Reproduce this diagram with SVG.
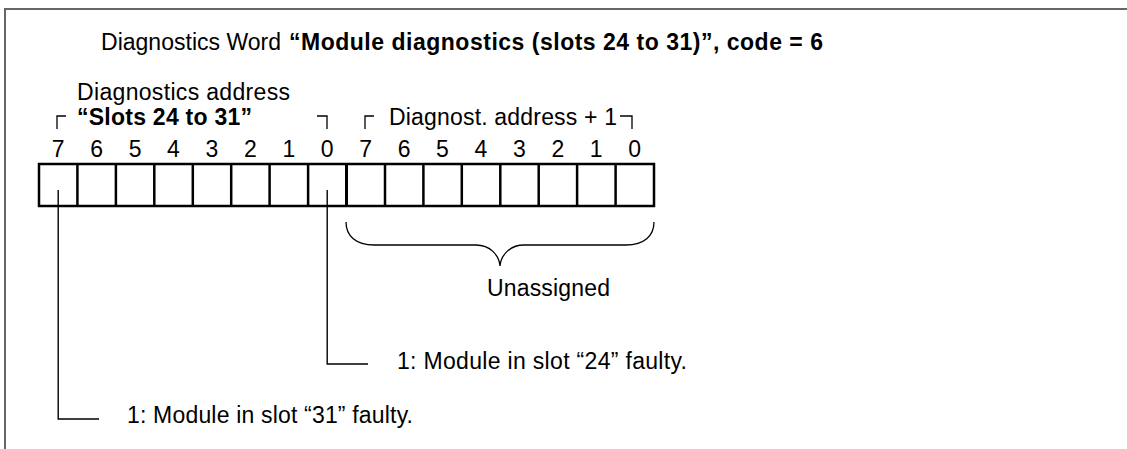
<svg xmlns="http://www.w3.org/2000/svg" width="1127" height="449" viewBox="0 0 1127 449">
<style>
text{font-family:"Liberation Sans",Arial,sans-serif;font-size:23px;fill:#000}
.b{font-weight:bold}
.cell{fill:#fff;stroke:#000;stroke-width:2.5}
.div{fill:none;stroke:#000;stroke-width:2.5}
.br{fill:none;stroke:#000;stroke-width:1.3}
.con{fill:none;stroke:#000;stroke-width:1.4}
.frame{fill:none;stroke:#666;stroke-width:2}
.d{text-anchor:middle}
</style>
<rect width="1127" height="449" fill="#fff"/>
<path class="frame" d="M5,449 V9 H1127"/>
<g id="title">
<text x="101" y="50" textLength="180" lengthAdjust="spacing">Diagnostics Word</text>
<text class="b" x="289" y="50" textLength="534" lengthAdjust="spacing">“Module diagnostics (slots 24 to 31)”, code = 6</text>
</g>
<g id="byte0-label">
<text x="77" y="100" textLength="213" lengthAdjust="spacing">Diagnostics address</text>
<text class="b" x="77" y="125" textLength="175" lengthAdjust="spacing">“Slots 24 to 31”</text>
<path class="br" d="M57,129 V116 H66 M317,116 H327 V129"/>
</g>
<g id="byte1-label">
<text x="389" y="125" textLength="228" lengthAdjust="spacing">Diagnost. address + 1</text>
<path class="br" d="M365,129 V116 H374 M620,116 H632 V129"/>
</g>
<g id="bit-numbers">
<text class="d" x="58.2" y="157">7</text>
<text class="d" x="96.7" y="157">6</text>
<text class="d" x="135.1" y="157">5</text>
<text class="d" x="173.5" y="157">4</text>
<text class="d" x="211.9" y="157">3</text>
<text class="d" x="250.4" y="157">2</text>
<text class="d" x="288.8" y="157">1</text>
<text class="d" x="327.2" y="157">0</text>
<text class="d" x="365.7" y="157">7</text>
<text class="d" x="404.1" y="157">6</text>
<text class="d" x="442.5" y="157">5</text>
<text class="d" x="480.9" y="157">4</text>
<text class="d" x="519.4" y="157">3</text>
<text class="d" x="557.8" y="157">2</text>
<text class="d" x="596.2" y="157">1</text>
<text class="d" x="634.6" y="157">0</text>
</g>
<g id="cells">
<rect class="cell" x="39" y="164" width="615" height="42"/>
<path class="div" d="M77.4,164V206M115.9,164V206M154.3,164V206M192.8,164V206M231.2,164V206M269.6,164V206M308.1,164V206M385,164V206M423.4,164V206M461.8,164V206M500.3,164V206M538.7,164V206M577.1,164V206M615.6,164V206"/>
<path fill="none" stroke="#000" stroke-width="3" d="M346.5,164V206"/>
</g>
<g id="unassigned">
<path class="br" d="M346,222 C346,236 356,245 374,245 L476,245 C490,245 499,255 500,266 C501,255 510,245 524,245 L626,245 C644,245 654,236 654,222"/>
<text x="487" y="296" textLength="123" lengthAdjust="spacing">Unassigned</text>
</g>
<g id="connectors">
<path class="con" d="M58.2,190 V419 H99"/>
<path class="con" d="M327.2,190 V364 H368"/>
</g>
<g id="note-24">
<text x="397" y="369" textLength="290" lengthAdjust="spacing">1: Module in slot “24” faulty.</text>
</g>
<g id="note-31">
<text x="127" y="423" textLength="286" lengthAdjust="spacing">1: Module in slot “31” faulty.</text>
</g>
</svg>
